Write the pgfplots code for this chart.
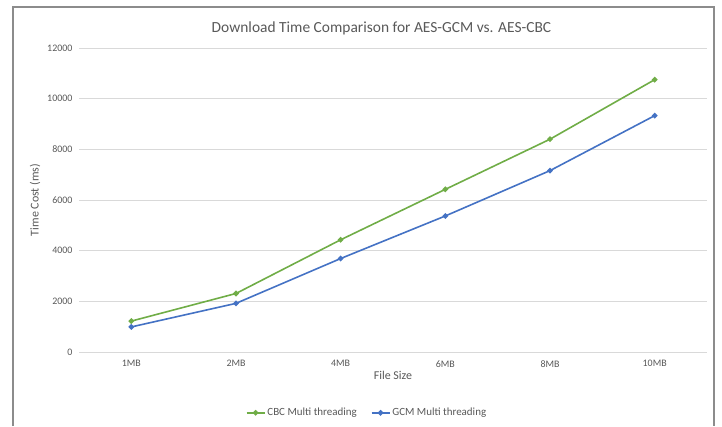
\documentclass[border=0pt]{standalone}
\usepackage{pgfplots}
\pgfplotsset{compat=1.18}
\usepackage{fontspec}
\setmainfont{Carlito}

\definecolor{cbcgreen}{HTML}{70AD47}
\definecolor{gcmblue}{HTML}{4472C4}
\definecolor{txtgray}{HTML}{595959}
\definecolor{gridgray}{HTML}{D9D9D9}
\definecolor{framegray}{HTML}{8C8C8C}

% download time (ms) per file size, index 0..5 = 1MB, 2MB, 4MB, 6MB, 8MB, 10MB
\pgfplotstableread{
idx cbc   gcm
0   1220  990
1   2310  1920
2   4430  3690
3   6420  5370
4   8400  7160
5   10750 9330
}\timedata

\begin{document}
\begin{tikzpicture}[x=1bp,y=1bp]
\useasboundingbox (0,0) rectangle (722,426);
% chart area border
\draw[framegray, line width=1.2bp] (13,0) -- (13,419) -- (714,419) -- (714,0);

\begin{axis}[
  at={(79bp,74bp)}, anchor=south west,
  scale only axis, width=628bp, height=304bp,
  xmin=-0.5, xmax=5.5, ymin=0, ymax=12000,
  xtick={0,...,5},
  xticklabels={1MB,2MB,4MB,6MB,8MB,10MB},
  ytick={0,2000,...,12000},
  scaled y ticks=false,
  /pgf/number format/assume math mode=true,
  yticklabel={\pgfmathprintnumber[fixed,precision=0,1000 sep={}]{\tick}},
  axis line style={draw=none},
  axis x line*=bottom,
  major tick length=0pt,
  ymajorgrids, grid style={gridgray, line width=0.8bp},
  ticklabel style={font=\fontsize{10}{12}\selectfont, text=txtgray},
  xticklabel style={yshift=-5bp},
  yticklabel style={xshift=-3bp},
  xlabel={File Size}, ylabel={Time Cost (ms)},
  label style={font=\fontsize{12}{14}\selectfont, text=txtgray},
  xlabel style={yshift=3bp},
  legend columns=2,
  legend image code/.code={
    \draw[#1] (0bp,0bp) -- (18bp,0bp);
    \draw[#1, mark repeat=1] plot coordinates {(9bp,0bp)};
  },
  legend style={draw=none, at={(axis description cs:0.4586,-0.2)}, anchor=center,
    font=\fontsize{11}{13}\selectfont, text=txtgray,
    /tikz/every even column/.append style={column sep=12bp}},
  legend cell align=left,
  clip=false,
]
\draw[gridgray, line width=0.8bp] (axis cs:-0.5,0) -- (axis cs:5.5,0);
\addplot[cbcgreen, line width=1.6bp, mark=*, mark size=1.9bp,
  mark options={fill=cbcgreen, draw=cbcgreen}] table[x=idx, y=cbc] {\timedata};
\addlegendentry{CBC Multi threading}
\addplot[gcmblue, line width=1.6bp, mark=*, mark size=1.9bp,
  mark options={fill=gcmblue, draw=gcmblue}] table[x=idx, y=gcm] {\timedata};
\addlegendentry{GCM Multi threading}
\end{axis}

\node[text=txtgray, font=\fontsize{15.5}{18}\selectfont] at (381.5,398)
  {Download Time Comparison for AES-GCM vs. AES-CBC};
\end{tikzpicture}
\end{document}
